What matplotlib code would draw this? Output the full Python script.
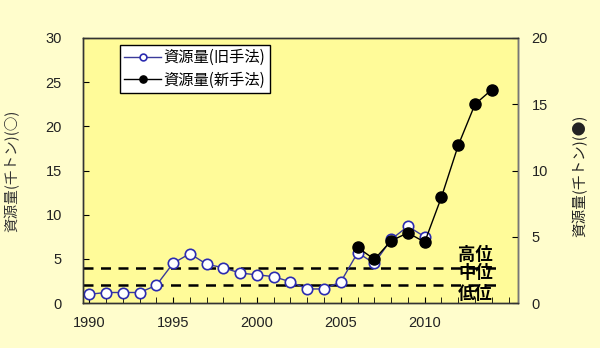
import matplotlib
matplotlib.use("Agg")
import matplotlib.pyplot as plt
from matplotlib.ticker import MultipleLocator

plt.rcParams['font.family'] = ['Noto Sans CJK JP', 'DejaVu Sans']

# old method (left axis), new method (right axis)
years_old = list(range(1990, 2011))
stock_old = [1.0, 1.2, 1.2, 1.2, 2.0, 4.5, 5.6, 4.4, 4.0, 3.4, 3.2, 3.0, 2.4,
             1.6, 1.6, 2.4, 5.7, 4.5, 7.2, 8.7, 7.5]
years_new = list(range(2006, 2015))
stock_new = [4.2, 3.3, 4.7, 5.3, 4.6, 8.0, 11.9, 15.0, 16.1]

# level thresholds (left axis)
level_lines = [2.0, 4.0]
level_names = ['高位', '中位', '低位']
level_text_y = [5.5, 3.4, 1.0]

bg_outer = '#FFFDCC'
bg_plot = '#FFFB99'
tick_font = 'Liberation Sans'

fig = plt.figure(figsize=(6, 3.48), dpi=100, facecolor=bg_outer)
ax = fig.add_axes([0.138, 0.129, 0.725, 0.762])
ax.set_facecolor(bg_plot)
ax2 = ax.twinx()

# dashed level lines
for v in level_lines:
    ax.plot([1989.62, 2014.5], [v, v], color='black', lw=1.8,
            dashes=(4, 3), zorder=2)

l1, = ax.plot(years_old, stock_old, color='#3a3a9a', lw=1, marker='o',
              markersize=7.5, markerfacecolor='white',
              markeredgecolor='#2c2cb0', markeredgewidth=1.2, zorder=3)
l2, = ax2.plot(years_new, stock_new, color='black', lw=1, marker='o',
               markersize=8, markerfacecolor='black',
               markeredgecolor='black', zorder=4)

for name, y in zip(level_names, level_text_y):
    ax.text(2012.0, y, name, fontsize=12.5, fontweight='bold', va='center',
            ha='left', color='black', zorder=5)

ax.set_xlim(1989.62, 2015.55)
ax.set_ylim(0, 30)
ax2.set_ylim(0, 20)
ax.set_xticks(range(1990, 2015, 5))
ax.xaxis.set_minor_locator(MultipleLocator(1))
ax.yaxis.set_major_locator(MultipleLocator(5))
ax2.yaxis.set_major_locator(MultipleLocator(5))

ax.tick_params(axis='x', which='both', direction='in', length=4,
               labelsize=10.5, pad=9, labelcolor='#222222')
ax.tick_params(axis='y', direction='in', length=4, labelsize=10.5, pad=15,
               labelcolor='#222222')
ax2.tick_params(axis='y', direction='in', length=4, labelsize=10.5, pad=10,
                labelcolor='#222222')
for lab in ax.get_xticklabels() + ax.get_yticklabels() + ax2.get_yticklabels():
    lab.set_fontfamily(tick_font)

for a in (ax, ax2):
    for s in a.spines.values():
        s.set_color('#333333')
        s.set_linewidth(1)
ax2.spines['right'].set_color('#777777')

ax.set_ylabel('資源量(千トン)(○)', fontsize=10.5, color='#333333')
ax.yaxis.set_label_coords(-0.145, 0.5)
ax2.set_ylabel('資源量(千トン)(●)', fontsize=10.5, color='#222222', rotation=90)
ax2.yaxis.set_label_coords(1.126, 0.48)

leg = ax2.legend([l1, l2], ['資源量(旧手法)', '資源量(新手法)'],
                 loc='upper left', bbox_to_anchor=(0.085, 0.975),
                 borderaxespad=0, fontsize=11, frameon=True, fancybox=False,
                 markerscale=0.65, handlelength=2.4, handletextpad=0.15,
                 borderpad=0.3, labelspacing=0.35)
leg.get_frame().set_edgecolor('black')
leg.get_frame().set_facecolor('white')
leg.get_frame().set_alpha(1)

fig.savefig('out.png', dpi=100, facecolor=bg_outer)
